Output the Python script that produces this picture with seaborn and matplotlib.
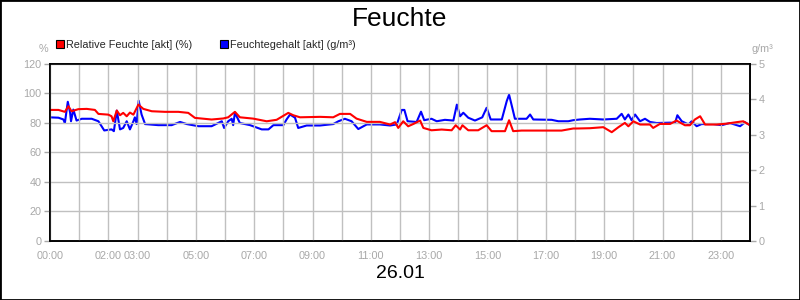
import matplotlib
matplotlib.use("Agg")
import matplotlib.pyplot as plt
import seaborn as sns
import pandas as pd
from matplotlib.lines import Line2D
from matplotlib.patches import Rectangle

sns.set_style("white")
plt.rcParams['font.family'] = ['Liberation Sans', 'DejaVu Sans']

# ---- data ----
rh_hours = [0.0, 0.29, 0.51, 0.63, 0.74, 0.97, 1.26, 1.54, 1.66, 2.0, 2.11, 2.17, 2.29, 2.40,
            2.51, 2.63, 2.74, 2.86, 3.03, 3.20, 3.49, 3.94, 4.40, 4.74, 4.97, 5.54, 5.94,
            6.11, 6.34, 6.51, 6.97, 7.43, 7.77, 8.17, 8.34, 8.57, 9.26, 9.71, 9.94, 10.29,
            10.51, 10.86, 11.31, 11.66, 11.83, 11.94, 12.11, 12.28, 12.46, 12.69, 12.80,
            13.08, 13.43, 13.77, 13.91, 14.06, 14.14, 14.34, 14.68, 14.97, 15.14, 15.60,
            15.74, 15.88, 16.17, 16.97, 17.54, 17.94, 18.06, 18.51, 18.97, 19.26, 19.49,
            19.71, 19.83, 20.0, 20.23, 20.57, 20.68, 20.91, 21.26, 21.48, 21.77, 21.94,
            22.11, 22.29, 22.46, 22.86, 23.20, 23.54, 23.77, 24.0]
rh_values = [88.8, 88.8, 87.5, 91.3, 87.9, 89.3, 89.5, 88.8, 86.1, 85.6, 84.5, 81.1, 88.4, 85.2,
             86.8, 84.5, 87.0, 85.6, 92.4, 89.5, 87.9, 87.5, 87.5, 86.8, 83.4, 82.3, 83.0,
             83.8, 87.5, 83.8, 82.9, 81.1, 82.1, 86.8, 85.2, 83.8, 84.1, 83.8, 86.1, 86.1,
             82.9, 80.7, 80.7, 78.9, 80.5, 76.6, 81.1, 77.7, 79.3, 81.6, 76.6,
             75.0, 75.5, 75.0, 78.4, 75.5, 78.4, 75.0, 75.0, 78.4, 74.4, 74.4,
             81.8, 74.4, 74.8, 74.8, 74.8, 76.2, 76.2, 76.4, 77.1, 73.7, 77.1,
             80.0, 77.7, 81.1, 78.9, 78.9, 76.6, 79.3, 79.3, 81.6, 78.4, 78.4,
             82.3, 84.5, 78.9, 78.9, 79.5, 80.5, 81.1, 78.4]

ah_hours = [0.0, 0.29, 0.46, 0.51, 0.61, 0.69, 0.72, 0.80, 0.91, 1.09, 1.43, 1.66, 1.86, 2.11,
            2.19, 2.29, 2.40, 2.51, 2.63, 2.74, 2.86, 2.91, 2.97, 3.04, 3.14, 3.26, 3.71,
            4.17, 4.46, 4.69, 5.09, 5.54, 5.89, 5.97, 6.11, 6.23, 6.28, 6.34, 6.51, 6.86,
            7.26, 7.49, 7.66, 8.0, 8.11, 8.23, 8.40, 8.51, 8.80, 9.26, 9.71, 9.89, 10.11,
            10.34, 10.57, 10.86, 11.31, 11.66, 11.89, 12.06, 12.15, 12.26, 12.57, 12.72,
            12.83, 13.08, 13.26, 13.54, 13.83, 13.95, 14.06, 14.17, 14.34, 14.57, 14.82,
            14.97, 15.11, 15.49, 15.66, 15.74, 15.85, 15.94, 16.34, 16.46, 16.57, 17.20,
            17.43, 17.77, 17.94, 18.17, 18.51, 18.97, 19.43, 19.60, 19.71, 19.83, 19.94,
            20.06, 20.23, 20.40, 20.57, 20.80, 21.26, 21.43, 21.51, 21.66, 21.89, 22.0,
            22.17, 22.34, 22.74, 23.03, 23.31, 23.66, 23.83, 24.0]
ah_values = [3.49, 3.48, 3.43, 3.33, 3.93, 3.62, 3.38, 3.71, 3.40, 3.45, 3.45, 3.38, 3.12, 3.15,
             3.10, 3.68, 3.15, 3.19, 3.38, 3.15, 3.38, 3.49, 3.30, 3.96, 3.57, 3.30, 3.27,
             3.27, 3.36, 3.30, 3.24, 3.24, 3.38, 3.19, 3.38, 3.45, 3.27, 3.62, 3.33, 3.27,
             3.15, 3.15, 3.27, 3.27, 3.43, 3.57, 3.48, 3.19, 3.26, 3.26, 3.30, 3.38, 3.45,
             3.38, 3.16, 3.29, 3.29, 3.26, 3.29, 3.70, 3.70, 3.38, 3.36, 3.65,
             3.41, 3.45, 3.38, 3.42, 3.40, 3.85, 3.52, 3.62, 3.48, 3.40, 3.49,
             3.76, 3.43, 3.43, 3.95, 4.13, 3.76, 3.45, 3.45, 3.57, 3.43, 3.42,
             3.38, 3.38, 3.41, 3.43, 3.45, 3.43, 3.45, 3.59, 3.43, 3.57, 3.41,
             3.57, 3.38, 3.45, 3.36, 3.33, 3.34, 3.33, 3.55, 3.38, 3.29, 3.38,
             3.24, 3.30, 3.30, 3.27, 3.33, 3.24, 3.35, 3.27]

tick_hours = [0, 2, 3, 5, 7, 9, 11, 13, 15, 17, 19, 21, 23]
tick_labels = ["00:00", "02:00", "03:00", "05:00", "07:00", "09:00", "11:00",
               "13:00", "15:00", "17:00", "19:00", "21:00", "23:00"]
left_ticks = [0, 20, 40, 60, 80, 100, 120]
right_ticks = [0, 1, 2, 3, 4, 5]

title = "Feuchte"
date_label = "26.01"
rh_name = "Relative Feuchte [akt] (%)"
ah_name = "Feuchtegehalt [akt] (g/m³)"

rh_df = pd.DataFrame({"h": rh_hours, "v": rh_values})
ah_df = pd.DataFrame({"h": ah_hours, "v": ah_values})

gray = "#a8a8a8"
fs = 7.8
fig = plt.figure(figsize=(8, 3), dpi=100)
ax = fig.add_axes([0.0625, 0.197, 0.875, 0.59])
ax2 = ax.twinx()

sns.lineplot(data=ah_df, x="h", y="v", ax=ax2, color="#0000ff", linewidth=1.5)
sns.lineplot(data=rh_df, x="h", y="v", ax=ax, color="#ff0000", linewidth=1.5)
# draw red above blue
ax.set_zorder(ax2.get_zorder() + 1)
ax.patch.set_visible(False)

ax.set_xlim(0, 24)
ax.set_ylim(0, 120)
ax2.set_ylim(0, 5)
ax.set_xticks(range(0, 25))
ax.set_xticklabels([tick_labels[tick_hours.index(h)] if h in tick_hours else "" for h in range(0, 25)])
ax.set_yticks(left_ticks)
ax2.set_yticks(right_ticks)
ax.grid(True, color="#c0c0c0", linewidth=1)
ax2.grid(False)
ax.set_xlabel("")
ax.set_ylabel("")
ax2.set_ylabel("")

for a in (ax, ax2):
    a.tick_params(axis="both", colors=gray, labelcolor=gray, labelsize=fs,
                  length=4, width=1, direction="out")
    for s in a.spines.values():
        s.set_color("black")
        s.set_linewidth(1.2)
ax.tick_params(axis="x", pad=3)
ax.tick_params(axis="y", pad=2)
ax2.tick_params(axis="y", pad=2)

fig.text(0.5, 0.937, title, ha="center", va="center", fontsize=19, color="black")
fig.text(0.5, 0.09, date_label, ha="center", va="center", fontsize=14, color="black")
fig.text(0.054, 0.838, "%", ha="center", va="center", fontsize=fs, color=gray)
fig.text(0.953, 0.838, "g/m³", ha="center", va="center", fontsize=fs, color=gray)

handles = [Line2D([], [], marker="s", linestyle="none", markersize=6,
                  markerfacecolor="#ff0000", markeredgecolor="black", markeredgewidth=0.8),
           Line2D([], [], marker="s", linestyle="none", markersize=6,
                  markerfacecolor="#0000ff", markeredgecolor="black", markeredgewidth=0.8)]
fig.legend(handles, [rh_name, ah_name], loc="center left", bbox_to_anchor=(0.071, 0.85),
           ncol=2, frameon=False, fontsize=fs, handlelength=0.6, handletextpad=0.25,
           columnspacing=2.6, borderaxespad=0, borderpad=0)

fig.patches.append(Rectangle((0, 0), 1, 1, transform=fig.transFigure, fill=False,
                             edgecolor="black", linewidth=2))

fig.savefig("out.png", dpi=100)
